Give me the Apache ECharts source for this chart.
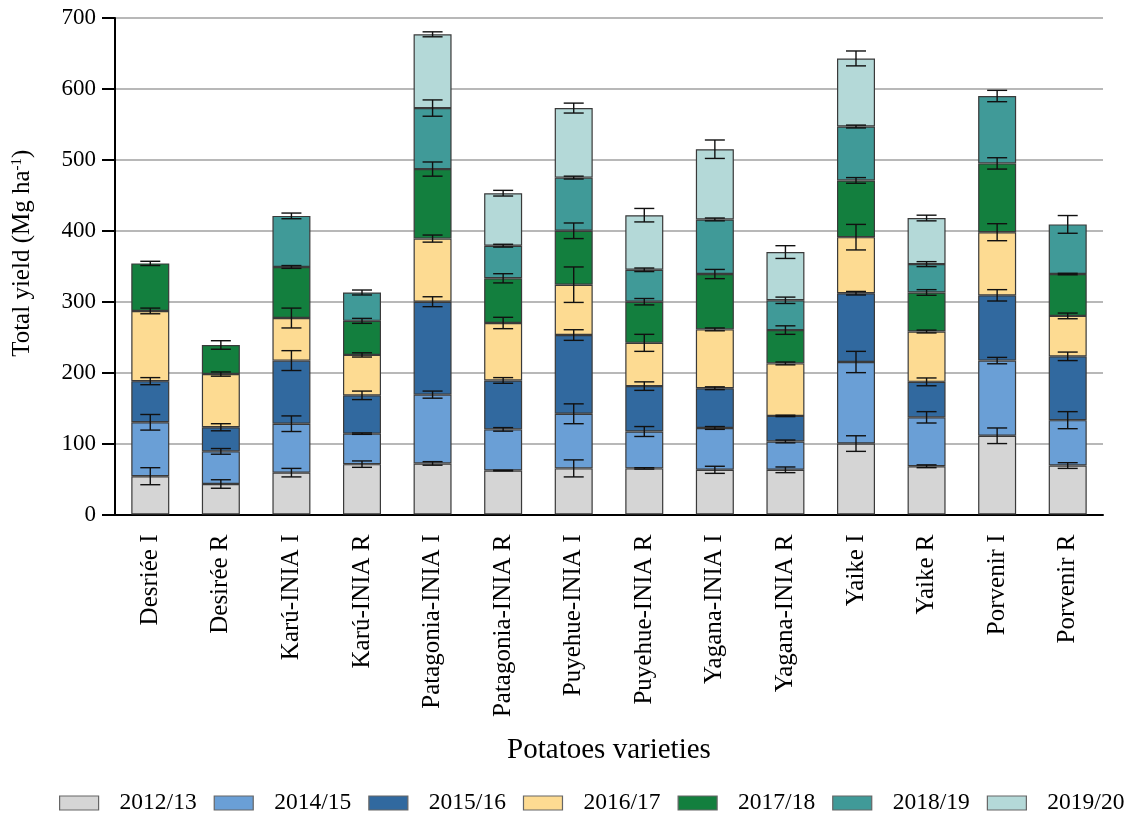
<!DOCTYPE html>
<html>
<head>
<meta charset="utf-8">
<script src="https://cdn.jsdelivr.net/npm/echarts@6/dist/echarts.min.js"></script>
<style>
	html, body { margin: 0; padding: 0; background: #fff; }
	#chart { width: 1131px; height: 816px; }
</style>
</head>
<body>
<div id="chart"></div>
<script>
	// categories (labels kept as printed in the figure)
	const varieties = ['Desriée I', 'Desirée R', 'Karú-INIA I', 'Karú-INIA R', 'Patagonia-INIA I', 'Patagonia-INIA R',
		'Puyehue-INIA I', 'Puyehue-INIA R', 'Yagana-INIA I', 'Yagana-INIA R', 'Yaike I', 'Yaike R', 'Porvenir I', 'Porvenir R'];
	const seasons = ['2012/13', '2014/15', '2015/16', '2016/17', '2017/18', '2018/19', '2019/20'];

	// yield per season, Mg ha-1 (stacked)
	const y2012 = [54, 43, 59, 71, 72, 62, 65, 65, 63, 63, 100, 68, 111, 69];
	const y2014 = [76, 46, 69, 43, 97, 58, 77, 52, 59, 40, 115, 69, 106, 64];
	const y2015 = [58, 34, 89, 54, 131, 69, 111, 64, 56, 36, 97, 50, 92, 90];
	const y2016 = [99, 75, 60, 57, 89, 81, 71, 61, 83, 74, 79, 71, 89, 57];
	const y2017 = [67, 41, 72, 48, 98, 63, 76, 58, 78, 47, 80, 55, 97, 59];
	const y2018 = [null, null, 72, 40, 86, 46, 75, 45, 77, 42, 76, 40, 95, 70];
	const y2019 = [null, null, null, null, 104, 74, 98, 77, 99, 68, 96, 65, null, null];

	// error (+/-) at the top of each segment
	const e2012 = [12, 6, 6, 4.5, 2.5, 0.5, 12, 1, 5, 4, 11, 2, 11, 4];
	const e2014 = [11, 4, 11, 1, 5, 2.5, 14, 7, 2, 2, 15, 8, 4.5, 12];
	const e2015 = [5, 5, 14, 6, 7, 4, 7.5, 6, 2, 1, 2.5, 5.5, 8, 6];
	const e2016 = [4, 3, 14, 3, 5, 8, 25, 12, 2, 2, 18, 2, 12, 4];
	const e2017 = [3, 6, 2, 3.5, 10, 6.5, 11, 4.5, 6.5, 6, 4, 4, 8, 1];
	const e2018 = [null, null, 4, 3.5, 11.5, 2, 2, 2.5, 2, 4.5, 2, 3.5, 8, 12.5];
	const e2019 = [null, null, null, null, 3.5, 4, 7, 9.5, 13, 9, 10.5, 4, null, null];

	const yieldData = [y2012, y2014, y2015, y2016, y2017, y2018, y2019];
	const errData = [e2012, e2014, e2015, e2016, e2017, e2018, e2019];
	const colors = ['#d5d5d5', '#6a9fd6', '#31699f', '#fddb92', '#137f3e', '#409a98', '#b4d9d8'];
	const font = 'Liberation Serif';

	// running top of the stack, for placing the error bars
	let tops = varieties.map(() => 0);

	function renderErr(params, api) {
		let x = api.value(0), top = api.value(1), err = api.value(2);
		let hi = api.coord([x, top + err]);
		let lo = api.coord([x, top - err]);
		let half = 10;
		let style = { stroke: '#111', lineWidth: 1.4 };
		return {
			type: 'group',
			children: [
				{ type: 'line', shape: { x1: hi[0], y1: hi[1], x2: lo[0], y2: lo[1] }, style: style },
				{ type: 'line', shape: { x1: hi[0] - half, y1: hi[1], x2: hi[0] + half, y2: hi[1] }, style: style },
				{ type: 'line', shape: { x1: lo[0] - half, y1: lo[1], x2: lo[0] + half, y2: lo[1] }, style: style }
			]
		};
	}

	let series = [];
	let errSeries = [];
	seasons.forEach((name, k) => {
		series.push({
			name: name,
			type: 'bar',
			stack: 'total',
			barWidth: 38,
			data: yieldData[k],
			itemStyle: { color: colors[k], borderColor: '#3a3a3a', borderWidth: 1.2 }
		});
		let pts = [];
		yieldData[k].forEach((v, i) => {
			if (v == null) return;
			tops[i] += v;
			pts.push([i, tops[i], errData[k][i]]);
		});
		errSeries.push({
			name: 'err ' + name,
			type: 'custom',
			renderItem: renderErr,
			encode: { x: 0, y: 1 },
			data: pts,
			z: 10
		});
	});

	let chart = echarts.init(document.getElementById('chart'));
	chart.setOption({
		animation: false,
		grid: { left: 115, right: 28, top: 18, bottom: 301.5 },
		legend: {
			data: seasons,
			left: 54,
			top: 786,
			width: 1077,
			padding: [5, 0, 5, 5],
			itemWidth: 39,
			itemHeight: 14,
			itemGap: 17,
			icon: 'rect',
			itemStyle: { borderColor: '#666', borderWidth: 1.2 },
			textStyle: { fontFamily: font, fontSize: 23.5, color: '#000', padding: [0, 0, 0, 16] }
		},
		xAxis: {
			type: 'category',
			data: varieties,
			name: 'Potatoes varieties',
			nameLocation: 'middle',
			nameGap: 221,
			nameTextStyle: { fontFamily: font, fontSize: 29, color: '#000' },
			axisLine: { lineStyle: { color: '#000', width: 2 } },
			axisTick: { alignWithLabel: true, length: 13, lineStyle: { color: '#000', width: 2 } },
			axisLabel: { interval: 0, rotate: 90, margin: 20, fontFamily: font, fontSize: 25, color: '#000' }
		},
		yAxis: {
			type: 'value',
			min: 0,
			max: 700,
			interval: 100,
			name: '{t|Total yield (Mg ha}{s|-1}{t|)}',
			nameLocation: 'middle',
			nameGap: 80,
			nameTextStyle: {
				color: '#000',
				padding: [0, 0, 0, 26],
				rich: {
					t: { fontFamily: font, fontSize: 25, color: '#000' },
					s: { fontFamily: font, fontSize: 15, color: '#000', verticalAlign: 'top', padding: [0, 0, 9, 0] }
				}
			},
			axisLine: { show: true, lineStyle: { color: '#000', width: 2 } },
			axisTick: { show: true, length: 13, lineStyle: { color: '#000', width: 2 } },
			axisLabel: { margin: 19, fontFamily: font, fontSize: 23, color: '#000' },
			splitLine: { lineStyle: { color: '#b8b8b8', width: 2 } }
		},
		series: series.concat(errSeries)
	});
</script>
</body>
</html>
